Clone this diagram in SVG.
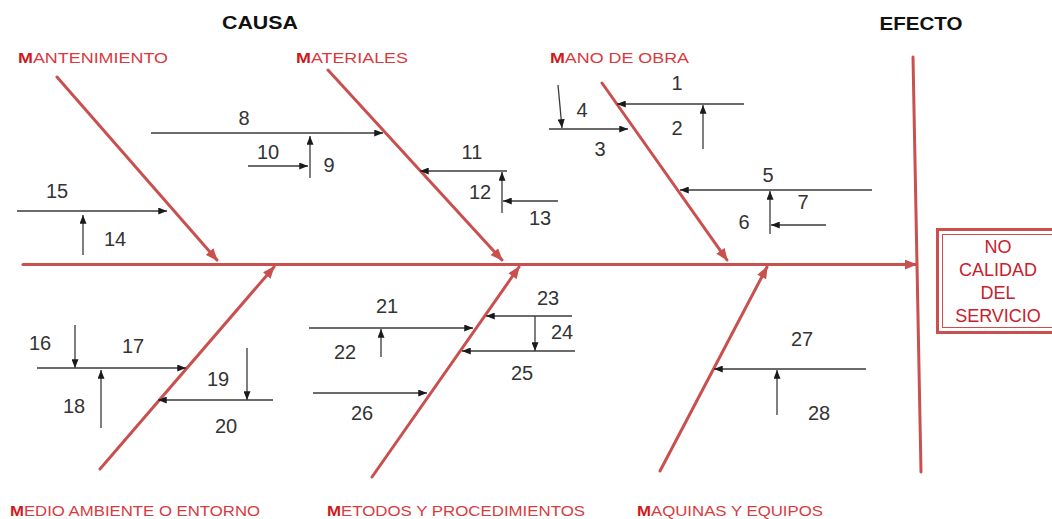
<svg xmlns="http://www.w3.org/2000/svg" width="1052" height="519" viewBox="0 0 1052 519">
<style>
.bone{stroke:#c9504f;stroke-width:3;fill:none;stroke-linecap:round}
.sub{stroke:#3a3a3a;stroke-width:1.3;fill:none}
.num{font-family:"Liberation Sans",Arial,sans-serif;font-size:20px;fill:#333333;text-anchor:middle}
.cat{font-family:"Liberation Sans",Arial,sans-serif;font-size:15px;fill:#d83a3e}
.cat .m{font-weight:bold;fill:#d01820}
.head{font-family:"Liberation Sans",Arial,sans-serif;font-size:18px;font-weight:bold;fill:#111;text-anchor:middle}
.eff{font-family:"Liberation Sans",Arial,sans-serif;font-size:18px;fill:#c8202c;text-anchor:middle}
</style>
<defs>
<marker id="ah" viewBox="0 0 10 8" refX="10" refY="4" markerWidth="9" markerHeight="7" markerUnits="userSpaceOnUse" orient="auto">
<path d="M0,0 L10,4 L0,8 z" fill="#1a1a1a"/>
</marker>
<marker id="rh" viewBox="0 0 10 8" refX="9" refY="4" markerWidth="13" markerHeight="10" markerUnits="userSpaceOnUse" orient="auto">
<path d="M0,0 L10,4 L0,8 z" fill="#c9504f"/>
</marker>
</defs>

<g id="titles">
<text class="head" x="260" y="29" textLength="76" lengthAdjust="spacingAndGlyphs">CAUSA</text>
<text class="head" x="921" y="30" textLength="83" lengthAdjust="spacingAndGlyphs">EFECTO</text>
</g>

<g id="spine">
<line class="bone" x1="23" y1="264.5" x2="916" y2="264.5" marker-end="url(#rh)"/>
<line class="bone" x1="913" y1="57" x2="921" y2="472"/>
</g>

<g id="effect">
<rect x="937.5" y="229.5" width="130" height="103" fill="none" stroke="#c9504f" stroke-width="3"/>
<rect x="942.5" y="234.5" width="130" height="93" fill="none" stroke="#c9504f" stroke-width="1"/>
<text class="eff" x="998" y="253">NO</text>
<text class="eff" x="998" y="276">CALIDAD</text>
<text class="eff" x="998" y="299">DEL</text>
<text class="eff" x="998" y="322">SERVICIO</text>
</g>

<g id="cat-mantenimiento">
<text class="cat" x="18" y="63" textLength="150" lengthAdjust="spacingAndGlyphs"><tspan class="m">M</tspan>ANTENIMIENTO</text>
<line class="bone" x1="57" y1="77" x2="217" y2="260" marker-end="url(#rh)"/>
</g>
<g id="cat-materiales">
<text class="cat" x="296" y="63" textLength="112" lengthAdjust="spacingAndGlyphs"><tspan class="m">M</tspan>ATERIALES</text>
<line class="bone" x1="328" y1="70" x2="502" y2="260" marker-end="url(#rh)"/>
</g>
<g id="cat-mano">
<text class="cat" x="550" y="63" textLength="139" lengthAdjust="spacingAndGlyphs"><tspan class="m">M</tspan>ANO DE OBRA</text>
<line class="bone" x1="602" y1="83" x2="727" y2="260" marker-end="url(#rh)"/>
</g>
<g id="cat-medio">
<text class="cat" x="10" y="516" textLength="250" lengthAdjust="spacingAndGlyphs"><tspan class="m">M</tspan>EDIO AMBIENTE O ENTORNO</text>
<line class="bone" x1="100" y1="469" x2="274" y2="267" marker-end="url(#rh)"/>
</g>
<g id="cat-metodos">
<text class="cat" x="327" y="516" textLength="258" lengthAdjust="spacingAndGlyphs"><tspan class="m">M</tspan>ETODOS Y PROCEDIMIENTOS</text>
<line class="bone" x1="372" y1="477" x2="519" y2="267" marker-end="url(#rh)"/>
</g>
<g id="cat-maquinas">
<text class="cat" x="637" y="516" textLength="186" lengthAdjust="spacingAndGlyphs"><tspan class="m">M</tspan>AQUINAS Y EQUIPOS</text>
<line class="bone" x1="660" y1="471" x2="767" y2="267" marker-end="url(#rh)"/>
</g>

<g id="connectors">
<line class="sub" x1="17" y1="211" x2="167" y2="211" marker-end="url(#ah)"/>
<line class="sub" x1="83" y1="255" x2="83" y2="215" marker-end="url(#ah)"/>
<line class="sub" x1="151" y1="133" x2="383" y2="133" marker-end="url(#ah)"/>
<line class="sub" x1="310" y1="178" x2="310" y2="136" marker-end="url(#ah)"/>
<line class="sub" x1="248" y1="166" x2="308" y2="166" marker-end="url(#ah)"/>
<line class="sub" x1="507" y1="171" x2="420" y2="171" marker-end="url(#ah)"/>
<line class="sub" x1="502" y1="213" x2="502" y2="172" marker-end="url(#ah)"/>
<line class="sub" x1="558" y1="201" x2="503" y2="201" marker-end="url(#ah)"/>
<line class="sub" x1="744" y1="104" x2="617" y2="104" marker-end="url(#ah)"/>
<line class="sub" x1="703" y1="149" x2="703" y2="105" marker-end="url(#ah)"/>
<line class="sub" x1="558" y1="85" x2="562" y2="128" marker-end="url(#ah)"/>
<line class="sub" x1="549" y1="129" x2="628" y2="129" marker-end="url(#ah)"/>
<line class="sub" x1="872" y1="190" x2="680" y2="190" marker-end="url(#ah)"/>
<line class="sub" x1="770" y1="234" x2="770" y2="191" marker-end="url(#ah)"/>
<line class="sub" x1="826" y1="225" x2="771" y2="225" marker-end="url(#ah)"/>
<line class="sub" x1="75" y1="325" x2="75" y2="368" marker-end="url(#ah)"/>
<line class="sub" x1="37" y1="368" x2="186" y2="368" marker-end="url(#ah)"/>
<line class="sub" x1="101" y1="428" x2="101" y2="370" marker-end="url(#ah)"/>
<line class="sub" x1="247" y1="348" x2="247" y2="400" marker-end="url(#ah)"/>
<line class="sub" x1="273" y1="400" x2="158" y2="400" marker-end="url(#ah)"/>
<line class="sub" x1="309" y1="328" x2="473" y2="328" marker-end="url(#ah)"/>
<line class="sub" x1="381" y1="357" x2="381" y2="329" marker-end="url(#ah)"/>
<line class="sub" x1="572" y1="316" x2="486" y2="316" marker-end="url(#ah)"/>
<line class="sub" x1="535" y1="316" x2="535" y2="351" marker-end="url(#ah)"/>
<line class="sub" x1="575" y1="351" x2="462" y2="351" marker-end="url(#ah)"/>
<line class="sub" x1="313" y1="393" x2="427" y2="393" marker-end="url(#ah)"/>
<line class="sub" x1="866" y1="369" x2="714" y2="369" marker-end="url(#ah)"/>
<line class="sub" x1="777" y1="415" x2="777" y2="370" marker-end="url(#ah)"/>
</g>

<g id="labels">
<text class="num" x="677" y="90">1</text>
<text class="num" x="677" y="135">2</text>
<text class="num" x="600" y="156">3</text>
<text class="num" x="582" y="117">4</text>
<text class="num" x="768" y="182">5</text>
<text class="num" x="744" y="229">6</text>
<text class="num" x="803" y="209">7</text>
<text class="num" x="244" y="125">8</text>
<text class="num" x="329" y="172">9</text>
<text class="num" x="268" y="159">10</text>
<text class="num" x="472" y="159">11</text>
<text class="num" x="480" y="199">12</text>
<text class="num" x="540" y="225">13</text>
<text class="num" x="115" y="246">14</text>
<text class="num" x="57" y="198">15</text>
<text class="num" x="40" y="350">16</text>
<text class="num" x="133" y="353">17</text>
<text class="num" x="74" y="413">18</text>
<text class="num" x="218" y="386">19</text>
<text class="num" x="226" y="433">20</text>
<text class="num" x="387" y="313">21</text>
<text class="num" x="345" y="359">22</text>
<text class="num" x="548" y="305">23</text>
<text class="num" x="562" y="339">24</text>
<text class="num" x="522" y="380">25</text>
<text class="num" x="362" y="420">26</text>
<text class="num" x="802" y="346">27</text>
<text class="num" x="819" y="420">28</text>
</g>
</svg>
